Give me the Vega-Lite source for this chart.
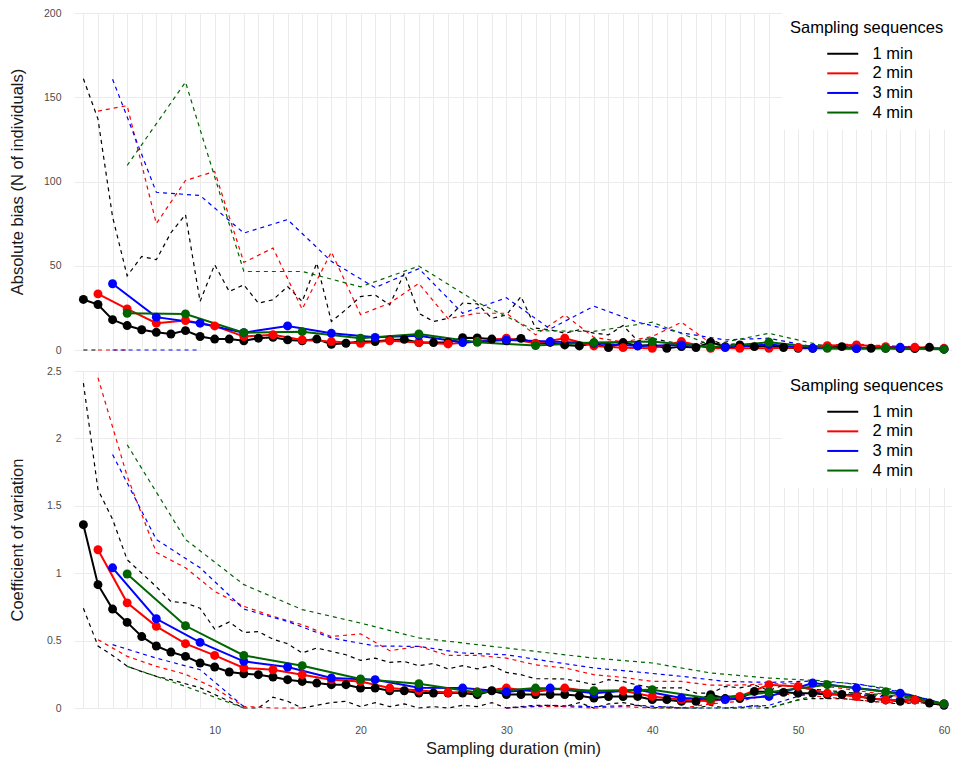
{
  "$schema": "https://vega.github.io/schema/vega-lite/v6.json",
  "usermeta": {"embedOptions": {"actions": false}},
  "background": "white",
  "padding": {"left": 9, "top": 8, "right": 0, "bottom": 0},
  "config": {
    "font": "Liberation Sans",
    "view": {"stroke": null},
    "axis": {
      "grid": true, "gridColor": "#ebebeb", "gridWidth": 1,
      "domain": false, "ticks": false,
      "labelFont": "Liberation Sans", "labelFontSize": 10.5, "labelColor": "#4d4d4d",
      "titleFont": "Liberation Sans", "titleFontSize": 16.5, "titleFontWeight": "normal", "titleColor": "#1a1a1a"
    },
    "legend": {
      "titleFont": "Liberation Sans", "titleFontSize": 16.5, "titleFontWeight": "normal", "titleColor": "black",
      "labelFont": "Liberation Sans", "labelFontSize": 16.5, "labelColor": "black",
      "symbolType": "M5.8,0L12,0", "symbolSize": 100, "symbolStrokeWidth": 2,
      "labelOffset": 66, "rowPadding": 2.6, "titlePadding": 9, "padding": 8,
      "fillColor": "white"
    }
  },
  "datasets": {
    "bias": [
      {"s":"1 min","t":1,"m":30,"hi":161,"lo":0},{"s":"1 min","t":2,"m":27,"hi":137,"lo":0},{"s":"1 min","t":3,"m":18,"hi":79,"lo":null},{"s":"1 min","t":4,"m":14.5,"hi":44,"lo":null},{"s":"1 min","t":5,"m":12,"hi":55.5,"lo":null},{"s":"1 min","t":6,"m":10.5,"hi":53.6,"lo":null},{"s":"1 min","t":7,"m":9.5,"hi":69.6,"lo":null},{"s":"1 min","t":8,"m":11.5,"hi":80.4,"lo":null},{"s":"1 min","t":9,"m":8,"hi":28.8,"lo":null},{"s":"1 min","t":10,"m":6.5,"hi":50.6,"lo":null},
      {"s":"1 min","t":11,"m":6.5,"hi":34.7,"lo":null},{"s":"1 min","t":12,"m":5.5,"hi":38.7,"lo":null},{"s":"1 min","t":13,"m":7,"hi":27.8,"lo":null},{"s":"1 min","t":14,"m":7.5,"hi":29.8,"lo":null},{"s":"1 min","t":15,"m":6,"hi":37.7,"lo":null},{"s":"1 min","t":16,"m":5.5,"hi":28.8,"lo":null},{"s":"1 min","t":17,"m":6.5,"hi":51.6,"lo":null},{"s":"1 min","t":18,"m":3.4,"hi":16.9,"lo":null},{"s":"1 min","t":19,"m":4,"hi":24,"lo":null},{"s":"1 min","t":20,"m":5,"hi":31.7,"lo":null},
      {"s":"1 min","t":21,"m":5,"hi":32.7,"lo":null},{"s":"1 min","t":22,"m":6,"hi":26.8,"lo":null},{"s":"1 min","t":23,"m":6.3,"hi":45.6,"lo":null},{"s":"1 min","t":24,"m":4.4,"hi":21.8,"lo":null},{"s":"1 min","t":25,"m":4.4,"hi":16.9,"lo":null},{"s":"1 min","t":26,"m":4.5,"hi":18.8,"lo":null},{"s":"1 min","t":27,"m":7.3,"hi":27.8,"lo":null},{"s":"1 min","t":28,"m":7.1,"hi":27.4,"lo":null},{"s":"1 min","t":29,"m":6.5,"hi":18.8,"lo":null},{"s":"1 min","t":30,"m":5.5,"hi":20.8,"lo":null},
      {"s":"1 min","t":31,"m":6.9,"hi":31.7,"lo":null},{"s":"1 min","t":32,"m":3.6,"hi":13,"lo":null},{"s":"1 min","t":33,"m":4.5,"hi":12,"lo":null},{"s":"1 min","t":34,"m":3,"hi":10,"lo":null},{"s":"1 min","t":35,"m":2.4,"hi":12,"lo":null},{"s":"1 min","t":36,"m":4,"hi":10,"lo":null},{"s":"1 min","t":37,"m":1.4,"hi":9,"lo":null},{"s":"1 min","t":38,"m":4.4,"hi":14.5,"lo":null},{"s":"1 min","t":39,"m":2.5,"hi":5.5,"lo":null},{"s":"1 min","t":40,"m":3,"hi":7,"lo":null},
      {"s":"1 min","t":41,"m":1,"hi":5,"lo":null},{"s":"1 min","t":42,"m":2,"hi":4,"lo":null},{"s":"1 min","t":43,"m":1.5,"hi":3,"lo":null},{"s":"1 min","t":44,"m":4.6,"hi":6,"lo":null},{"s":"1 min","t":45,"m":2,"hi":3,"lo":null},{"s":"1 min","t":46,"m":3,"hi":4,"lo":null},{"s":"1 min","t":47,"m":2,"hi":2.5,"lo":null},{"s":"1 min","t":48,"m":2.5,"hi":3.5,"lo":null},{"s":"1 min","t":49,"m":1.5,"hi":2,"lo":null},{"s":"1 min","t":50,"m":1,"hi":1.5,"lo":null},
      {"s":"1 min","t":51,"m":1,"hi":1.5,"lo":null},{"s":"1 min","t":52,"m":1.5,"hi":2,"lo":null},{"s":"1 min","t":53,"m":2,"hi":2.5,"lo":null},{"s":"1 min","t":54,"m":1,"hi":1.5,"lo":null},{"s":"1 min","t":55,"m":1,"hi":1.5,"lo":null},{"s":"1 min","t":56,"m":1,"hi":1.5,"lo":null},{"s":"1 min","t":57,"m":0.8,"hi":1,"lo":null},{"s":"1 min","t":58,"m":0.8,"hi":1,"lo":null},{"s":"1 min","t":59,"m":1.6,"hi":2,"lo":null},{"s":"1 min","t":60,"m":0.5,"hi":0.5,"lo":null},

      {"s":"2 min","t":2,"m":33.3,"hi":141.8,"lo":0},{"s":"2 min","t":4,"m":24.4,"hi":145,"lo":0},{"s":"2 min","t":6,"m":15.9,"hi":75,"lo":null},{"s":"2 min","t":8,"m":17.5,"hi":100.6,"lo":null},{"s":"2 min","t":10,"m":14.3,"hi":106,"lo":null},
      {"s":"2 min","t":12,"m":8,"hi":52,"lo":null},{"s":"2 min","t":14,"m":9,"hi":60.5,"lo":null},{"s":"2 min","t":16,"m":6,"hi":24.2,"lo":null},{"s":"2 min","t":18,"m":5,"hi":58.2,"lo":null},{"s":"2 min","t":20,"m":4,"hi":21,"lo":null},
      {"s":"2 min","t":22,"m":5.5,"hi":27.8,"lo":null},{"s":"2 min","t":24,"m":4.5,"hi":39.5,"lo":null},{"s":"2 min","t":26,"m":3.6,"hi":18.6,"lo":null},{"s":"2 min","t":28,"m":5,"hi":21.8,"lo":null},{"s":"2 min","t":30,"m":7,"hi":21.8,"lo":null},
      {"s":"2 min","t":32,"m":4,"hi":9,"lo":null},{"s":"2 min","t":34,"m":7,"hi":20.8,"lo":null},{"s":"2 min","t":36,"m":2.4,"hi":7.5,"lo":null},{"s":"2 min","t":38,"m":1.4,"hi":4.8,"lo":null},{"s":"2 min","t":40,"m":1,"hi":8,"lo":null},
      {"s":"2 min","t":42,"m":5,"hi":16.5,"lo":null},{"s":"2 min","t":44,"m":1,"hi":4,"lo":null},{"s":"2 min","t":46,"m":1,"hi":2,"lo":null},{"s":"2 min","t":48,"m":1,"hi":2,"lo":null},{"s":"2 min","t":50,"m":1.5,"hi":2,"lo":null},
      {"s":"2 min","t":52,"m":2.6,"hi":3,"lo":null},{"s":"2 min","t":54,"m":3,"hi":3.5,"lo":null},{"s":"2 min","t":56,"m":2,"hi":2.5,"lo":null},{"s":"2 min","t":58,"m":1.6,"hi":2,"lo":null},{"s":"2 min","t":60,"m":1,"hi":1,"lo":null},

      {"s":"3 min","t":3,"m":39.3,"hi":160.7,"lo":0},{"s":"3 min","t":6,"m":19.5,"hi":93.6,"lo":0},{"s":"3 min","t":9,"m":15.9,"hi":91.7,"lo":0},{"s":"3 min","t":12,"m":10.3,"hi":69.4,"lo":null},{"s":"3 min","t":15,"m":14.3,"hi":77.4,"lo":null},
      {"s":"3 min","t":18,"m":9.9,"hi":52.6,"lo":null},{"s":"3 min","t":21,"m":7.5,"hi":37,"lo":null},{"s":"3 min","t":24,"m":8.5,"hi":48.3,"lo":null},{"s":"3 min","t":27,"m":4.4,"hi":21.8,"lo":null},{"s":"3 min","t":30,"m":6,"hi":31,"lo":null},
      {"s":"3 min","t":33,"m":5,"hi":12.5,"lo":null},{"s":"3 min","t":36,"m":4,"hi":26,"lo":null},{"s":"3 min","t":39,"m":2.4,"hi":16.5,"lo":null},{"s":"3 min","t":42,"m":3,"hi":10.2,"lo":null},{"s":"3 min","t":45,"m":1.5,"hi":6,"lo":null},
      {"s":"3 min","t":48,"m":3.3,"hi":7,"lo":null},{"s":"3 min","t":51,"m":1,"hi":2,"lo":null},{"s":"3 min","t":54,"m":0.8,"hi":1.5,"lo":null},{"s":"3 min","t":57,"m":1.6,"hi":2,"lo":null},{"s":"3 min","t":60,"m":0.5,"hi":0.5,"lo":null},

      {"s":"4 min","t":4,"m":21.8,"hi":109.5,"lo":null},{"s":"4 min","t":8,"m":21.4,"hi":159,"lo":null},{"s":"4 min","t":12,"m":10.3,"hi":46.6,"lo":null},{"s":"4 min","t":16,"m":10.9,"hi":46.6,"lo":null},{"s":"4 min","t":20,"m":7,"hi":37.5,"lo":null},
      {"s":"4 min","t":24,"m":9.5,"hi":49.8,"lo":null},{"s":"4 min","t":28,"m":4.6,"hi":28.3,"lo":null},{"s":"4 min","t":32,"m":2.6,"hi":11.5,"lo":null},{"s":"4 min","t":36,"m":4.4,"hi":11,"lo":null},{"s":"4 min","t":40,"m":5,"hi":16.5,"lo":null},
      {"s":"4 min","t":44,"m":1.6,"hi":3,"lo":null},{"s":"4 min","t":48,"m":4.6,"hi":9.9,"lo":null},{"s":"4 min","t":52,"m":1,"hi":2,"lo":null},{"s":"4 min","t":56,"m":1,"hi":1.5,"lo":null},{"s":"4 min","t":60,"m":0.5,"hi":0.5,"lo":null}
    ],
    "cv": [
      {"s":"1 min","t":1,"m":1.36,"hi":2.41,"lo":0.74},{"s":"1 min","t":2,"m":0.915,"hi":1.62,"lo":0.46},{"s":"1 min","t":3,"m":0.734,"hi":1.4,"lo":0.39},{"s":"1 min","t":4,"m":0.635,"hi":1.1,"lo":0.31},{"s":"1 min","t":5,"m":0.53,"hi":1.0,"lo":0.27},{"s":"1 min","t":6,"m":0.46,"hi":0.9,"lo":0.235},{"s":"1 min","t":7,"m":0.415,"hi":0.79,"lo":0.21},{"s":"1 min","t":8,"m":0.383,"hi":0.78,"lo":0.18},{"s":"1 min","t":9,"m":0.334,"hi":0.74,"lo":0.15},{"s":"1 min","t":10,"m":0.304,"hi":0.586,"lo":0.1},
      {"s":"1 min","t":11,"m":0.267,"hi":0.638,"lo":0.05},{"s":"1 min","t":12,"m":0.254,"hi":0.56,"lo":0},{"s":"1 min","t":13,"m":0.247,"hi":0.567,"lo":0},{"s":"1 min","t":14,"m":0.23,"hi":0.51,"lo":0.08},{"s":"1 min","t":15,"m":0.21,"hi":0.477,"lo":0.05},{"s":"1 min","t":16,"m":0.197,"hi":0.408,"lo":0},{"s":"1 min","t":17,"m":0.185,"hi":0.445,"lo":0.02},{"s":"1 min","t":18,"m":0.173,"hi":0.42,"lo":0.04},{"s":"1 min","t":19,"m":0.173,"hi":0.395,"lo":0.05},{"s":"1 min","t":20,"m":0.148,"hi":0.353,"lo":0.01},
      {"s":"1 min","t":21,"m":0.148,"hi":0.37,"lo":0.04},{"s":"1 min","t":22,"m":0.128,"hi":0.338,"lo":0.01},{"s":"1 min","t":23,"m":0.128,"hi":0.345,"lo":0.03},{"s":"1 min","t":24,"m":0.111,"hi":0.314,"lo":0},{"s":"1 min","t":25,"m":0.111,"hi":0.33,"lo":0.01},{"s":"1 min","t":26,"m":0.111,"hi":0.29,"lo":0},{"s":"1 min","t":27,"m":0.111,"hi":0.314,"lo":0.02},{"s":"1 min","t":28,"m":0.099,"hi":0.29,"lo":0.01},{"s":"1 min","t":29,"m":0.128,"hi":0.314,"lo":0.04},{"s":"1 min","t":30,"m":0.1,"hi":0.264,"lo":0},
      {"s":"1 min","t":31,"m":0.1,"hi":0.247,"lo":0.01},{"s":"1 min","t":32,"m":0.1,"hi":0.217,"lo":0.02},{"s":"1 min","t":33,"m":0.1,"hi":0.217,"lo":0.02},{"s":"1 min","t":34,"m":0.1,"hi":0.215,"lo":0.01},{"s":"1 min","t":35,"m":0.09,"hi":0.197,"lo":0.04},{"s":"1 min","t":36,"m":0.074,"hi":0.173,"lo":0},{"s":"1 min","t":37,"m":0.085,"hi":0.21,"lo":0.03},{"s":"1 min","t":38,"m":0.085,"hi":0.197,"lo":0.04},{"s":"1 min","t":39,"m":0.086,"hi":0.17,"lo":0.02},{"s":"1 min","t":40,"m":0.062,"hi":0.15,"lo":0},
      {"s":"1 min","t":41,"m":0.062,"hi":0.15,"lo":0.01},{"s":"1 min","t":42,"m":0.049,"hi":0.15,"lo":0},{"s":"1 min","t":43,"m":0.049,"hi":0.11,"lo":0},{"s":"1 min","t":44,"m":0.099,"hi":0.11,"lo":0.02},{"s":"1 min","t":45,"m":0.07,"hi":0.16,"lo":0},{"s":"1 min","t":46,"m":0.07,"hi":0.15,"lo":0},{"s":"1 min","t":47,"m":0.123,"hi":0.17,"lo":0.02},{"s":"1 min","t":48,"m":0.12,"hi":0.13,"lo":0},{"s":"1 min","t":49,"m":0.116,"hi":0.17,"lo":0.03},{"s":"1 min","t":50,"m":0.11,"hi":0.15,"lo":0.06},
      {"s":"1 min","t":51,"m":0.11,"hi":0.14,"lo":0.07},{"s":"1 min","t":52,"m":0.1,"hi":0.13,"lo":0.07},{"s":"1 min","t":53,"m":0.1,"hi":0.12,"lo":0.07},{"s":"1 min","t":54,"m":0.09,"hi":0.11,"lo":0.06},{"s":"1 min","t":55,"m":0.07,"hi":0.1,"lo":0.05},{"s":"1 min","t":56,"m":0.06,"hi":0.09,"lo":0.04},{"s":"1 min","t":57,"m":0.05,"hi":0.08,"lo":0.03},{"s":"1 min","t":58,"m":0.06,"hi":0.07,"lo":0.04},{"s":"1 min","t":59,"m":0.037,"hi":0.05,"lo":0.03},{"s":"1 min","t":60,"m":0.02,"hi":0.03,"lo":0.02},

      {"s":"2 min","t":2,"m":1.174,"hi":2.45,"lo":0.507},{"s":"2 min","t":4,"m":0.78,"hi":1.72,"lo":0.383},{"s":"2 min","t":6,"m":0.606,"hi":1.154,"lo":0.309},{"s":"2 min","t":8,"m":0.477,"hi":1.04,"lo":0.25},{"s":"2 min","t":10,"m":0.39,"hi":0.865,"lo":0.148},
      {"s":"2 min","t":12,"m":0.297,"hi":0.754,"lo":0.012},{"s":"2 min","t":14,"m":0.284,"hi":0.68,"lo":0},{"s":"2 min","t":16,"m":0.247,"hi":0.618,"lo":0},{"s":"2 min","t":18,"m":0.21,"hi":0.53,"lo":null},{"s":"2 min","t":20,"m":0.197,"hi":0.55,"lo":null},
      {"s":"2 min","t":22,"m":0.148,"hi":0.425,"lo":null},{"s":"2 min","t":24,"m":0.13,"hi":0.457,"lo":null},{"s":"2 min","t":26,"m":0.115,"hi":0.39,"lo":null},{"s":"2 min","t":28,"m":0.12,"hi":0.39,"lo":null},{"s":"2 min","t":30,"m":0.148,"hi":0.37,"lo":0},
      {"s":"2 min","t":32,"m":0.12,"hi":0.32,"lo":0.01},{"s":"2 min","t":34,"m":0.148,"hi":0.297,"lo":0.01},{"s":"2 min","t":36,"m":0.12,"hi":0.247,"lo":0},{"s":"2 min","t":38,"m":0.128,"hi":0.227,"lo":0.01},{"s":"2 min","t":40,"m":0.086,"hi":0.197,"lo":0},
      {"s":"2 min","t":42,"m":0.062,"hi":0.197,"lo":0},{"s":"2 min","t":44,"m":0.05,"hi":0.17,"lo":0.03},{"s":"2 min","t":46,"m":0.086,"hi":0.17,"lo":0.05},{"s":"2 min","t":48,"m":0.173,"hi":0.18,"lo":0.1},{"s":"2 min","t":50,"m":0.16,"hi":0.18,"lo":0.1},
      {"s":"2 min","t":52,"m":0.11,"hi":0.16,"lo":0.08},{"s":"2 min","t":54,"m":0.086,"hi":0.13,"lo":0.06},{"s":"2 min","t":56,"m":0.06,"hi":0.1,"lo":0.04},{"s":"2 min","t":58,"m":0.06,"hi":0.07,"lo":0.04},{"s":"2 min","t":60,"m":0.03,"hi":0.03,"lo":0.03},

      {"s":"3 min","t":3,"m":1.04,"hi":1.88,"lo":0.47},{"s":"3 min","t":6,"m":0.662,"hi":1.25,"lo":0.37},{"s":"3 min","t":9,"m":0.487,"hi":1.04,"lo":0.284},{"s":"3 min","t":12,"m":0.346,"hi":0.734,"lo":0.01},{"s":"3 min","t":15,"m":0.304,"hi":0.642,"lo":null},
      {"s":"3 min","t":18,"m":0.222,"hi":0.52,"lo":null},{"s":"3 min","t":21,"m":0.21,"hi":0.46,"lo":null},{"s":"3 min","t":24,"m":0.15,"hi":0.457,"lo":null},{"s":"3 min","t":27,"m":0.148,"hi":0.408,"lo":null},{"s":"3 min","t":30,"m":0.12,"hi":0.395,"lo":0},
      {"s":"3 min","t":33,"m":0.148,"hi":0.345,"lo":0.02},{"s":"3 min","t":36,"m":0.11,"hi":0.297,"lo":0.01},{"s":"3 min","t":39,"m":0.136,"hi":0.267,"lo":0.02},{"s":"3 min","t":42,"m":0.075,"hi":0.235,"lo":0},{"s":"3 min","t":45,"m":0.062,"hi":0.197,"lo":0},
      {"s":"3 min","t":48,"m":0.086,"hi":0.19,"lo":0.02},{"s":"3 min","t":51,"m":0.185,"hi":0.2,"lo":0.12},{"s":"3 min","t":54,"m":0.148,"hi":0.18,"lo":0.1},{"s":"3 min","t":57,"m":0.11,"hi":0.12,"lo":0.07},{"s":"3 min","t":60,"m":0.03,"hi":0.03,"lo":0.03},

      {"s":"4 min","t":4,"m":0.994,"hi":1.953,"lo":0.309},{"s":"4 min","t":8,"m":0.61,"hi":1.25,"lo":0.16},{"s":"4 min","t":12,"m":0.39,"hi":0.915,"lo":0},{"s":"4 min","t":16,"m":0.314,"hi":0.73,"lo":null},{"s":"4 min","t":20,"m":0.215,"hi":0.63,"lo":null},
      {"s":"4 min","t":24,"m":0.18,"hi":0.52,"lo":null},{"s":"4 min","t":28,"m":0.115,"hi":0.47,"lo":null},{"s":"4 min","t":32,"m":0.148,"hi":0.42,"lo":null},{"s":"4 min","t":36,"m":0.128,"hi":0.37,"lo":null},{"s":"4 min","t":40,"m":0.136,"hi":0.334,"lo":0},
      {"s":"4 min","t":44,"m":0.07,"hi":0.26,"lo":0},{"s":"4 min","t":48,"m":0.116,"hi":0.222,"lo":0},{"s":"4 min","t":52,"m":0.173,"hi":0.2,"lo":0.12},{"s":"4 min","t":56,"m":0.12,"hi":0.15,"lo":0.1},{"s":"4 min","t":60,"m":0.03,"hi":0.03,"lo":0.03}
    ]
  },
  "spacing": 21,
  "bounds": "flush",
  "resolve": {
    "scale": {"color": "independent", "stroke": "independent", "fill": "independent", "x": "independent", "y": "independent"},
    "legend": {"color": "independent"}
  },
  "vconcat": [
    {
      "width": 878,
      "height": 337,
      "data": {"name": "bias"},
      "encoding": {
        "x": {
          "field": "t", "type": "quantitative",
          "scale": {"domain": [0.356, 60.55], "nice": false, "zero": false},
          "axis": {"values": [1,2,3,4,5,6,7,8,9,10,11,12,13,14,15,16,17,18,19,20,21,22,23,24,25,26,27,28,29,30,31,32,33,34,35,36,37,38,39,40,41,42,43,44,45,46,47,48,49,50,51,52,53,54,55,56,57,58,59,60], "labels": false, "title": null}
        }
      },
      "layer": [
        {
          "mark": {"type": "line", "strokeWidth": 1.2, "strokeDash": [4, 4], "invalid": "break-paths-show-domains"},
          "encoding": {
            "y": {"field": "hi", "type": "quantitative", "scale": {"domain": [0, 200], "nice": false},
                  "axis": {"values": [0, 50, 100, 150, 200], "title": "Absolute bias (N of individuals)", "labelPadding": 13, "titleX": -52, "titleBaseline": "alphabetic"}},
            "stroke": {"field": "s", "type": "nominal", "scale": {"domain": ["4 min", "3 min", "2 min", "1 min"], "range": ["#006400", "#0000ff", "#ff0000", "#000000"]}, "legend": null}
          }
        },
        {
          "mark": {"type": "line", "strokeWidth": 1.2, "strokeDash": [4, 4], "invalid": "break-paths-show-domains"},
          "encoding": {
            "y": {"field": "lo", "type": "quantitative", "scale": {"domain": [0, 200], "nice": false},
                  "axis": {"values": [0, 50, 100, 150, 200], "title": "Absolute bias (N of individuals)", "labelPadding": 13, "titleX": -52, "titleBaseline": "alphabetic"}},
            "stroke": {"field": "s", "type": "nominal", "scale": {"domain": ["4 min", "3 min", "2 min", "1 min"], "range": ["#006400", "#0000ff", "#ff0000", "#000000"]}, "legend": null}
          }
        },
        {
          "mark": {"type": "line", "strokeWidth": 2},
          "encoding": {
            "y": {"field": "m", "type": "quantitative", "scale": {"domain": [0, 200], "nice": false},
                  "axis": {"values": [0, 50, 100, 150, 200], "title": "Absolute bias (N of individuals)", "labelPadding": 13, "titleX": -52, "titleBaseline": "alphabetic"}},
            "color": {
              "field": "s", "type": "nominal",
              "scale": {"domain": ["1 min", "2 min", "3 min", "4 min"], "range": ["#000000", "#ff0000", "#0000ff", "#006400"]},
              "legend": {"title": "Sampling sequences", "orient": "none", "legendX": 708, "legendY": -1}
            }
          }
        },
        {
          "mark": {"type": "circle", "size": 80, "opacity": 1},
          "encoding": {
            "y": {"field": "m", "type": "quantitative", "scale": {"domain": [0, 200], "nice": false},
                  "axis": {"values": [0, 50, 100, 150, 200], "title": "Absolute bias (N of individuals)", "labelPadding": 13, "titleX": -52, "titleBaseline": "alphabetic"}},
            "fill": {"field": "s", "type": "nominal", "scale": {"domain": ["4 min", "3 min", "2 min", "1 min"], "range": ["#006400", "#0000ff", "#ff0000", "#000000"]}, "legend": null}
          }
        }
      ]
    },
    {
      "width": 878,
      "height": 337,
      "data": {"name": "cv"},
      "encoding": {
        "x": {
          "field": "t", "type": "quantitative",
          "scale": {"domain": [0.356, 60.55], "nice": false, "zero": false},
          "axis": {"values": [1,2,3,4,5,6,7,8,9,10,11,12,13,14,15,16,17,18,19,20,21,22,23,24,25,26,27,28,29,30,31,32,33,34,35,36,37,38,39,40,41,42,43,44,45,46,47,48,49,50,51,52,53,54,55,56,57,58,59,60],
                   "labelExpr": "datum.value % 10 === 0 ? datum.label : ''", "labelOverlap": false, "labelFlush": false,
                   "labelPadding": 17, "title": "Sampling duration (min)", "titleY": 45.5, "titleBaseline": "alphabetic"}
        }
      },
      "layer": [
        {
          "mark": {"type": "line", "strokeWidth": 1.2, "strokeDash": [4, 4], "invalid": "break-paths-show-domains"},
          "encoding": {
            "y": {"field": "hi", "type": "quantitative", "scale": {"domain": [0, 2.5], "nice": false},
                  "axis": {"values": [0, 0.5, 1, 1.5, 2, 2.5], "format": "~g", "title": "Coefficient of variation", "labelPadding": 13, "titleX": -52, "titleBaseline": "alphabetic"}},
            "stroke": {"field": "s", "type": "nominal", "scale": {"domain": ["4 min", "3 min", "2 min", "1 min"], "range": ["#006400", "#0000ff", "#ff0000", "#000000"]}, "legend": null}
          }
        },
        {
          "mark": {"type": "line", "strokeWidth": 1.2, "strokeDash": [4, 4], "invalid": "break-paths-show-domains"},
          "encoding": {
            "y": {"field": "lo", "type": "quantitative", "scale": {"domain": [0, 2.5], "nice": false},
                  "axis": {"values": [0, 0.5, 1, 1.5, 2, 2.5], "format": "~g", "title": "Coefficient of variation", "labelPadding": 13, "titleX": -52, "titleBaseline": "alphabetic"}},
            "stroke": {"field": "s", "type": "nominal", "scale": {"domain": ["4 min", "3 min", "2 min", "1 min"], "range": ["#006400", "#0000ff", "#ff0000", "#000000"]}, "legend": null}
          }
        },
        {
          "mark": {"type": "line", "strokeWidth": 2},
          "encoding": {
            "y": {"field": "m", "type": "quantitative", "scale": {"domain": [0, 2.5], "nice": false},
                  "axis": {"values": [0, 0.5, 1, 1.5, 2, 2.5], "format": "~g", "title": "Coefficient of variation", "labelPadding": 13, "titleX": -52, "titleBaseline": "alphabetic"}},
            "color": {
              "field": "s", "type": "nominal",
              "scale": {"domain": ["1 min", "2 min", "3 min", "4 min"], "range": ["#000000", "#ff0000", "#0000ff", "#006400"]},
              "legend": {"title": "Sampling sequences", "orient": "none", "legendX": 708, "legendY": -1}
            }
          }
        },
        {
          "mark": {"type": "circle", "size": 80, "opacity": 1},
          "encoding": {
            "y": {"field": "m", "type": "quantitative", "scale": {"domain": [0, 2.5], "nice": false},
                  "axis": {"values": [0, 0.5, 1, 1.5, 2, 2.5], "format": "~g", "title": "Coefficient of variation", "labelPadding": 13, "titleX": -52, "titleBaseline": "alphabetic"}},
            "fill": {"field": "s", "type": "nominal", "scale": {"domain": ["4 min", "3 min", "2 min", "1 min"], "range": ["#006400", "#0000ff", "#ff0000", "#000000"]}, "legend": null}
          }
        }
      ]
    }
  ]
}
